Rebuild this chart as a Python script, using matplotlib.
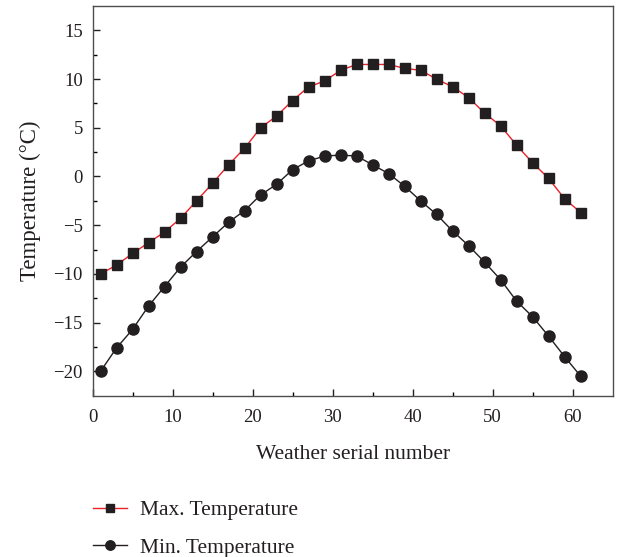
import numpy as np
import matplotlib.pyplot as plt

plt.rcParams['font.family'] = ['Liberation Serif', 'DejaVu Serif']

serial = list(range(1, 62, 2))
max_temp = [-10.0, -9.1, -7.9, -6.8, -5.7, -4.3, -2.5, -0.7, 1.2, 2.9,
            5.0, 6.2, 7.8, 9.2, 9.8, 10.9, 11.5, 11.5, 11.5, 11.1,
            10.9, 10.0, 9.2, 8.1, 6.5, 5.2, 3.2, 1.4, -0.2, -2.3, -3.7]
min_temp = [-20.0, -17.6, -15.7, -13.3, -11.3, -9.3, -7.7, -6.2, -4.7, -3.5,
            -1.9, -0.8, 0.7, 1.6, 2.1, 2.2, 2.1, 1.2, 0.3, -1.0,
            -2.5, -3.9, -5.6, -7.1, -8.8, -10.6, -12.8, -14.4, -16.4, -18.5, -20.5]

fig = plt.figure(figsize=(6.18, 5.57), dpi=100)
ax = fig.add_axes([0.1497, 0.2896, 0.8417, 0.6996])

ax.plot(serial, max_temp, color='#e8212a', linewidth=1, marker='s',
        markersize=7.5, markerfacecolor='#231f20', markeredgecolor='#231f20',
        label='Max. Temperature')
ax.plot(serial, min_temp, color='#231f20', linewidth=1, marker='o',
        markersize=8, markerfacecolor='#231f20', markeredgecolor='#231f20',
        label='Min. Temperature')

ax.set_xlim(0, 65)
ax.set_ylim(-22.5, 17.5)
ax.set_xticks(np.arange(0, 61, 10))
ax.set_xticks(np.arange(5, 61, 10), minor=True)
ax.set_yticks(np.arange(-20, 16, 5))
ax.set_yticks(np.arange(-17.5, 16, 5), minor=True)
ax.tick_params(direction='in', labelsize=13.5, colors='#231f20', length=5, width=1)
ax.tick_params(which='minor', direction='in', length=3, width=1)
ax.tick_params(axis='x', pad=9.5)
ax.tick_params(axis='y', pad=7)
for s in ax.spines.values():
    s.set_color('#4d4d4f')
    s.set_linewidth(1)

ax.set_xlabel('Weather serial number', fontsize=15.5, color='#231f20', labelpad=14)
ax.set_ylabel('Temperature (°C)', fontsize=16.5, color='#231f20', labelpad=9)

fig.legend(loc='upper left', bbox_to_anchor=(0.15, 0.102), frameon=False,
           fontsize=15.5, handlelength=1.6, labelspacing=0.8, handletextpad=0.6,
           borderpad=0, borderaxespad=0, markerscale=0.85, labelcolor='#231f20')

fig.savefig('out.png', dpi=100)
